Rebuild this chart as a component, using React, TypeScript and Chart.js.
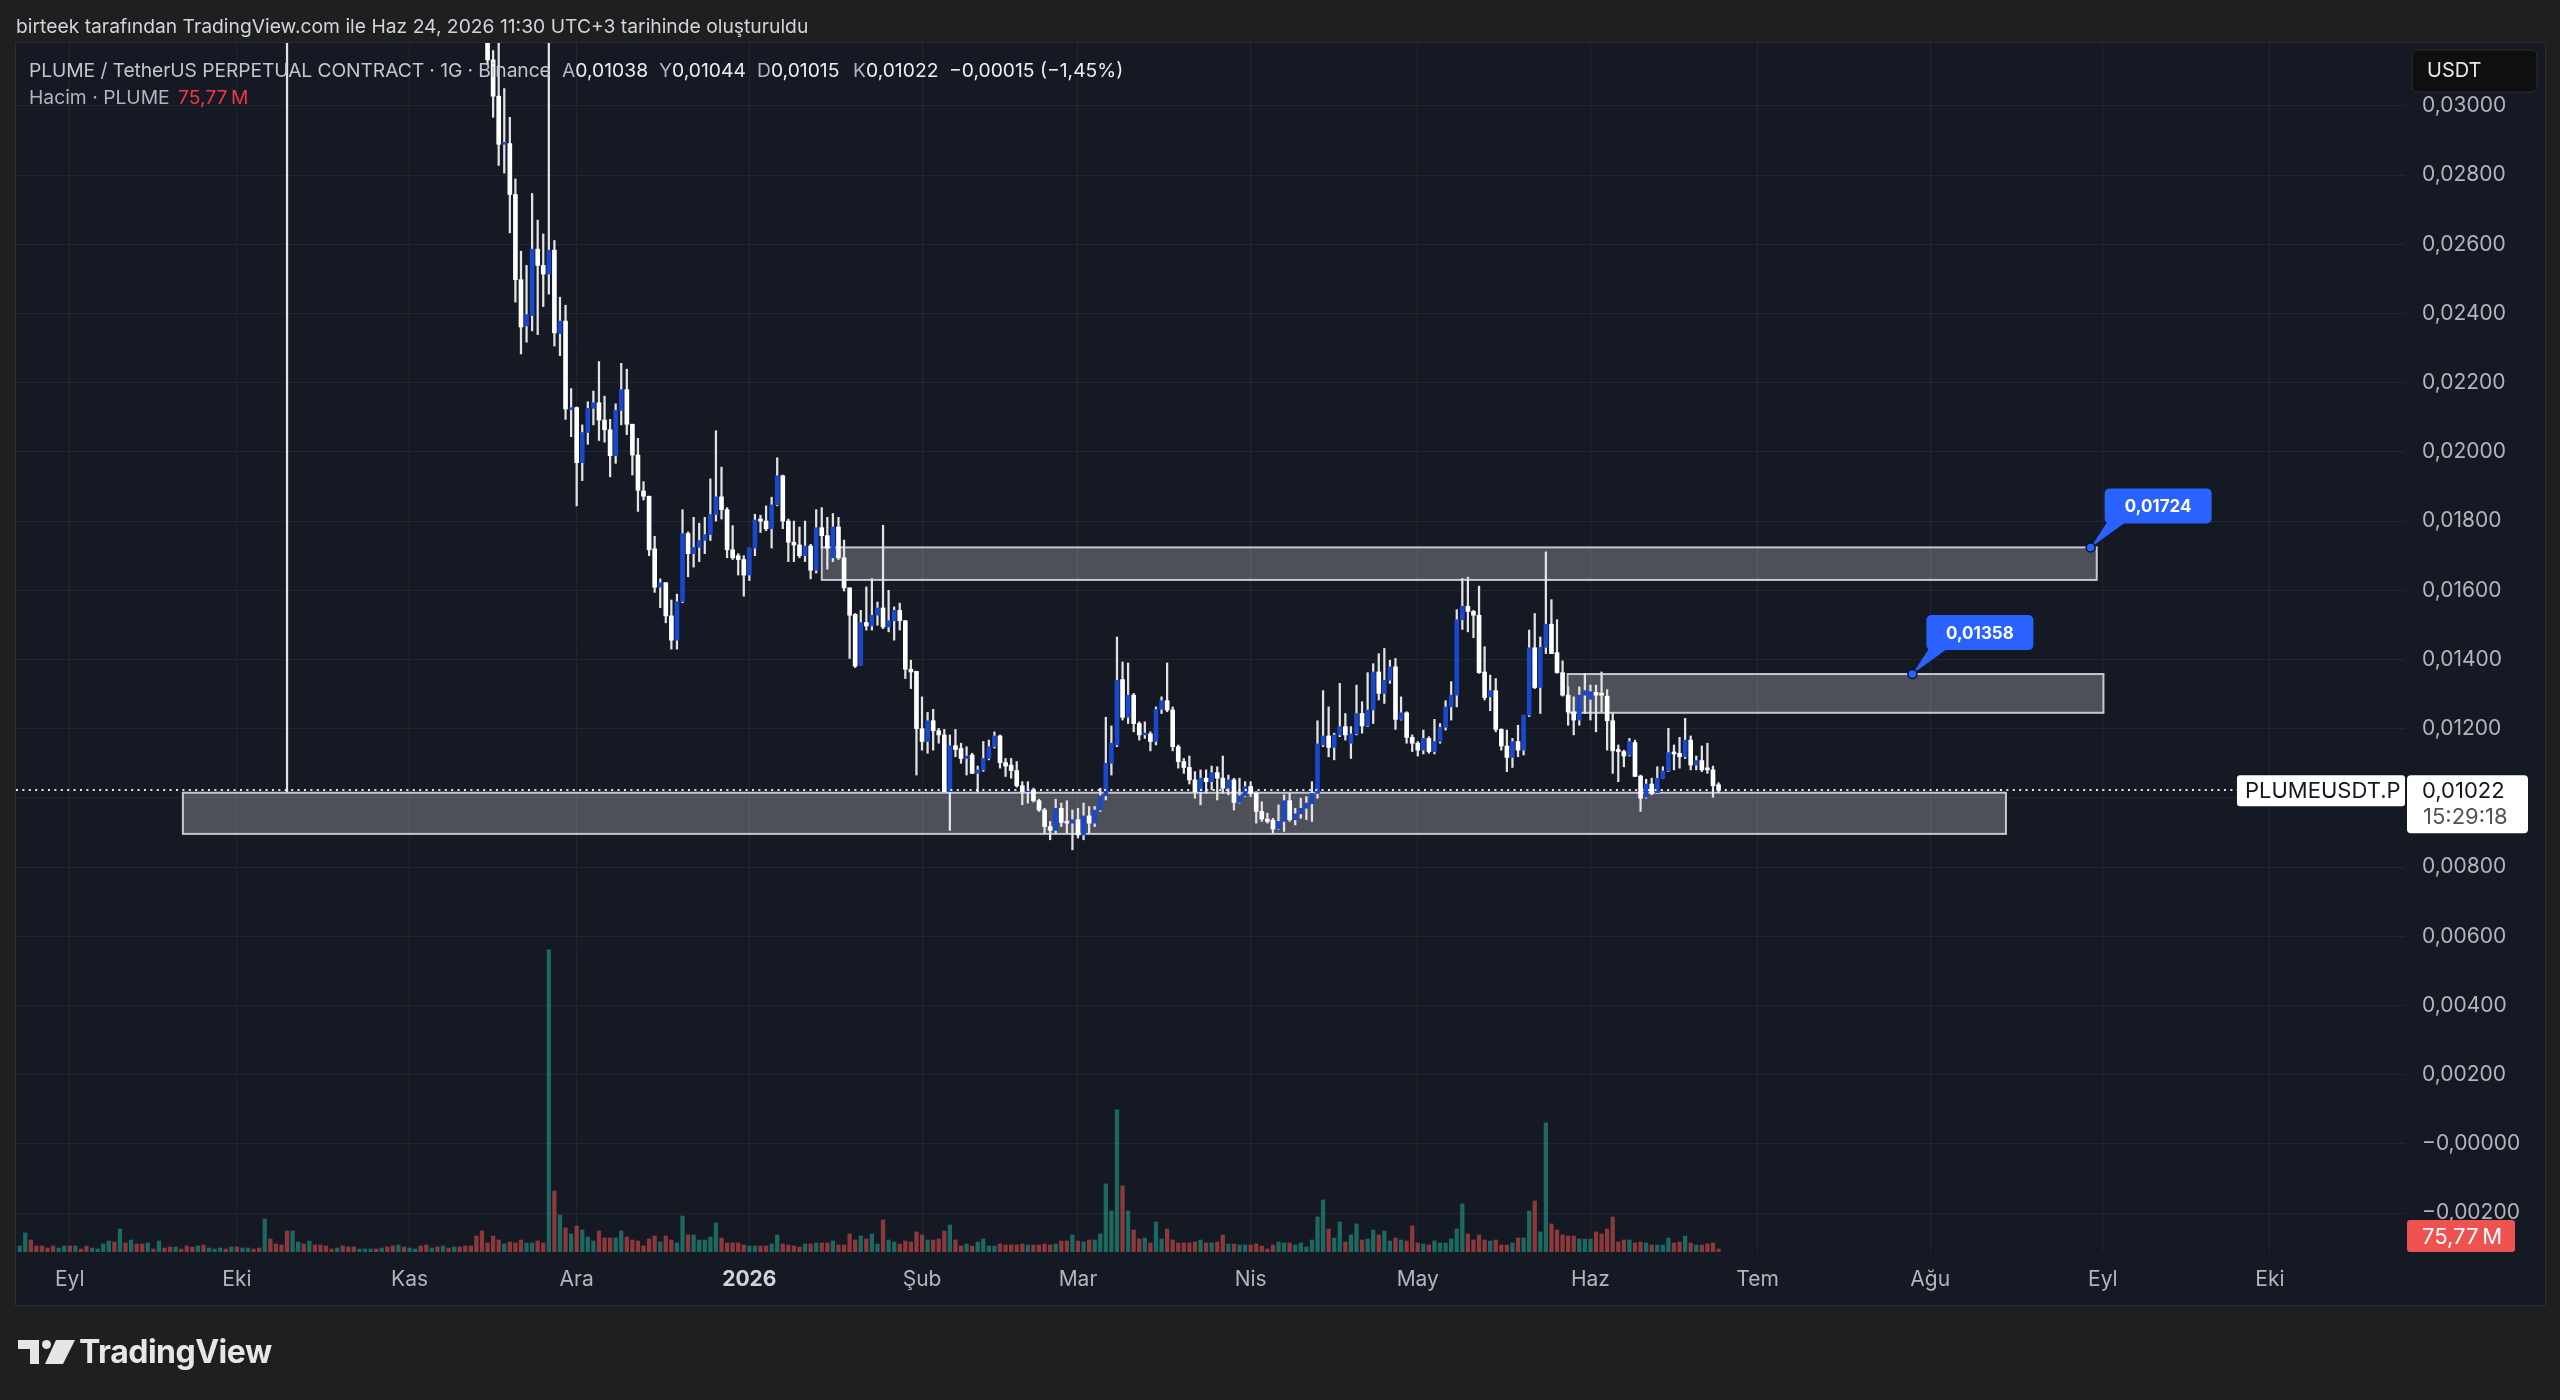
import React, { useEffect, useRef } from "react";
import { Chart, registerables } from "chart.js";

Chart.register(...registerables);

const FONT = 'Inter, "Noto Sans", "DejaVu Sans", sans-serif';

// ---- DATA -------------------------------------------------------------
// Day index 0 = 23 Aug 2025 (daily bars). Prices are in 0.001 USDT.
const FIRST_CANDLE_DAY = 84; // 15 Nov 2025 (earlier candles sit above the visible range)

const opens = [
  33.0, 31.33, 30.28, 28.89, 28.91, 27.44, 24.98, 23.64, 23.94, 25.86,
  25.39, 25.14, 25.83, 23.42, 23.78, 21.22, 21.28, 19.69, 20.56, 21.26,
  21.42, 20.92, 20.64, 19.89, 21.2, 21.8, 20.8, 19.91, 18.87, 18.72,
  17.2, 16.09, 16.22, 15.26, 14.56, 15.67, 17.64, 17.06, 17.24, 17.44,
  17.61, 18.19, 18.7, 18.33, 17.17, 17.0, 16.89, 16.44, 17.22, 18.06,
  18.0, 17.78, 18.47, 19.31, 18.0, 17.39, 17.31, 17.0, 17.28, 16.58,
  17.81, 17.58, 16.94, 17.83, 16.94, 16.07, 15.3, 13.84, 15.07, 14.97,
  15.28, 15.49, 14.94, 15.12, 15.42, 15.12, 13.72, 13.66, 12.0, 11.63,
  12.23, 11.94, 11.82, 10.18, 11.51, 11.43, 11.14, 11.24, 10.71, 10.81,
  11.14, 11.48, 11.79, 11.02, 10.95, 10.79, 10.35, 10.18, 10.23, 9.92,
  9.65, 9.17, 9.06, 9.7, 9.32, 9.27, 9.37, 8.93, 9.48, 9.27,
  9.65, 10.06, 11.0, 11.53, 13.42, 12.33, 12.97, 12.15, 11.82, 11.85,
  11.63, 12.56, 12.81, 12.54, 11.48, 11.05, 10.88, 10.52, 10.18, 10.57,
  10.47, 10.73, 10.57, 10.28, 10.52, 9.87, 10.06, 10.33, 10.13, 9.61,
  9.39, 9.35, 9.1, 9.32, 9.92, 9.37, 9.54, 9.7, 9.83, 10.13,
  11.53, 11.79, 11.46, 11.82, 12.06, 11.58, 11.85, 12.44, 12.08, 12.54,
  13.64, 13.02, 13.4, 13.79, 12.27, 12.46, 11.75, 11.58, 11.38, 11.72,
  11.34, 11.63, 12.04, 12.63, 12.97, 15.15, 15.54, 15.39, 15.28, 13.64,
  12.92, 13.1, 11.98, 11.5, 11.17, 11.63, 11.38, 12.39, 14.34, 13.19,
  14.35, 15.02, 14.2, 13.62, 12.97, 12.49, 12.25, 12.97, 12.85, 13.05,
  13.0, 12.94, 12.23, 11.36, 11.34, 11.24, 11.6, 10.63, 10.02, 10.4,
  10.15, 10.57, 10.78, 11.31, 11.29, 11.19, 11.67, 10.95, 11.08, 10.86,
  10.81, 10.38,
];
const highs = [
  34.0, 31.6, 32.2, 30.5, 29.67, 27.89, 25.8, 25.39, 27.47, 26.7,
  26.3, 36.0, 26.11, 24.47, 24.24, 21.83, 21.3, 20.78, 21.45, 21.76,
  22.61, 21.61, 20.94, 21.39, 22.56, 22.39, 20.8, 20.39, 19.14, 18.72,
  17.56, 16.33, 16.22, 15.72, 15.89, 18.33, 17.69, 18.11, 17.94, 18.11,
  19.22, 20.61, 19.56, 18.39, 17.87, 17.06, 17.0, 17.22, 18.2, 18.17,
  18.44, 18.69, 19.83, 19.33, 18.06, 18.0, 17.83, 18.0, 17.33, 18.33,
  18.39, 18.11, 18.22, 18.11, 17.45, 16.07, 15.33, 15.42, 16.1, 16.34,
  15.66, 17.88, 16.0, 15.52, 15.63, 15.13, 13.98, 13.66, 12.92, 12.47,
  12.56, 12.01, 11.98, 11.82, 11.98, 11.58, 11.48, 11.29, 10.92, 11.63,
  11.67, 11.91, 11.82, 11.14, 11.14, 11.05, 10.47, 10.47, 10.28, 9.96,
  9.7, 9.32, 9.96, 9.85, 9.92, 9.65, 9.7, 9.85, 9.75, 9.75,
  10.28, 12.33, 12.08, 14.65, 13.93, 13.9, 13.02, 12.2, 12.2, 11.91,
  12.63, 12.92, 13.9, 12.63, 11.53, 11.14, 11.21, 10.76, 10.81, 10.81,
  10.92, 10.9, 11.21, 10.66, 10.57, 10.57, 10.47, 10.47, 10.18, 9.89,
  9.56, 9.41, 9.8, 10.09, 10.13, 9.7, 9.99, 10.04, 10.47, 12.23,
  13.1, 12.63, 11.87, 13.31, 12.44, 12.06, 13.26, 12.78, 13.62, 13.88,
  14.17, 14.32, 13.98, 14.03, 12.92, 12.49, 11.82, 11.63, 11.96, 11.77,
  12.27, 12.15, 12.81, 13.36, 15.44, 16.34, 16.38, 15.42, 16.12, 14.37,
  13.55, 13.45, 12.0, 11.96, 11.72, 12.1, 12.39, 14.85, 15.33, 14.65,
  17.11, 15.73, 15.15, 13.96, 13.21, 12.92, 13.21, 13.6, 13.26, 13.26,
  13.64, 13.13, 12.46, 11.53, 11.38, 11.72, 11.67, 10.66, 10.54, 10.57,
  10.9, 10.9, 12.01, 11.53, 11.75, 12.3, 11.79, 11.21, 11.5, 11.58,
  10.92, 10.44,
];
const lows = [
  31.2, 29.67, 28.28, 28.06, 26.33, 24.33, 22.83, 23.17, 23.5, 23.39,
  24.2, 24.56, 23.06, 22.78, 20.94, 20.44, 18.44, 19.17, 20.22, 20.78,
  20.33, 20.28, 19.28, 19.67, 20.78, 20.5, 19.33, 18.28, 18.61, 17.0,
  15.94, 15.5, 15.06, 14.3, 14.3, 15.64, 16.39, 16.67, 16.83, 17.06,
  17.44, 18.0, 18.06, 16.94, 16.89, 16.44, 15.83, 16.28, 17.0, 17.67,
  17.72, 17.22, 18.44, 17.78, 16.83, 16.83, 16.94, 16.83, 16.33, 16.5,
  17.22, 16.61, 16.83, 16.89, 15.98, 14.03, 13.77, 13.84, 14.85, 14.85,
  14.99, 14.89, 14.8, 14.56, 14.85, 13.45, 13.16, 10.66, 11.38, 11.29,
  11.38, 11.58, 10.18, 9.06, 11.19, 11.0, 10.66, 10.71, 10.18, 10.77,
  11.1, 11.44, 10.86, 10.62, 10.57, 10.31, 9.8, 9.85, 9.88, 9.61,
  8.98, 8.79, 8.98, 9.17, 8.98, 8.5, 8.84, 8.79, 8.98, 9.17,
  9.61, 9.94, 10.66, 11.48, 12.25, 12.15, 11.91, 11.67, 11.72, 11.36,
  11.53, 12.44, 12.49, 11.36, 10.86, 10.71, 10.4, 9.99, 9.8, 10.13,
  10.23, 9.94, 10.13, 10.09, 9.65, 9.85, 10.04, 10.04, 9.27, 9.32,
  9.27, 8.98, 9.08, 9.03, 9.32, 9.22, 9.41, 9.37, 9.32, 9.99,
  11.48, 11.19, 11.1, 11.77, 11.67, 11.14, 11.82, 11.87, 12.06, 12.15,
  12.83, 12.73, 13.31, 11.98, 12.25, 11.58, 11.34, 11.21, 11.27, 11.29,
  11.27, 11.58, 11.96, 12.25, 12.63, 14.87, 14.8, 14.63, 13.6, 12.83,
  12.52, 11.91, 11.38, 10.76, 10.88, 11.19, 11.24, 12.35, 13.16, 12.44,
  14.17, 14.17, 13.6, 12.94, 12.1, 11.82, 12.1, 12.44, 12.25, 11.91,
  12.49, 11.38, 10.71, 10.47, 10.9, 11.21, 10.62, 9.61, 9.99, 10.09,
  10.13, 10.57, 10.76, 10.81, 10.86, 11.14, 10.81, 10.81, 10.76, 10.71,
  10.02, 10.15,
];
const closes = [
  31.33, 30.28, 28.89, 28.94, 27.44, 24.98, 23.61, 23.97, 25.86, 25.39,
  25.14, 25.83, 23.44, 23.78, 21.24, 21.28, 19.69, 20.56, 21.26, 21.42,
  20.92, 20.64, 19.89, 21.2, 21.8, 20.8, 19.91, 18.89, 18.72, 17.17,
  16.09, 16.22, 15.26, 14.56, 15.67, 17.64, 17.06, 17.24, 17.44, 17.61,
  18.19, 18.7, 18.33, 17.17, 16.94, 16.89, 16.44, 17.22, 18.03, 18.0,
  17.78, 18.47, 19.31, 18.0, 17.39, 17.31, 17.0, 17.28, 16.58, 17.81,
  17.58, 17.22, 17.83, 16.94, 16.07, 15.28, 13.81, 15.07, 14.97, 15.28,
  15.49, 14.94, 15.12, 15.42, 15.12, 13.72, 13.64, 12.0, 11.63, 12.23,
  11.94, 11.82, 10.18, 11.51, 11.4, 11.14, 11.21, 10.71, 10.81, 11.14,
  11.48, 11.79, 11.02, 10.92, 10.79, 10.35, 10.18, 10.23, 9.92, 9.65,
  9.17, 9.06, 9.7, 9.29, 9.27, 9.37, 8.93, 9.48, 9.27, 9.65,
  10.06, 11.0, 11.58, 13.4, 12.33, 12.97, 12.15, 11.82, 11.87, 11.63,
  12.56, 12.81, 12.54, 11.48, 11.05, 10.88, 10.52, 10.18, 10.57, 10.47,
  10.73, 10.57, 10.28, 10.52, 9.87, 10.06, 10.33, 10.13, 9.61, 9.39,
  9.32, 9.1, 9.32, 9.92, 9.37, 9.54, 9.7, 9.85, 10.13, 11.56,
  11.79, 11.46, 11.82, 12.06, 11.82, 11.85, 12.44, 12.08, 12.54, 13.64,
  13.02, 13.4, 13.79, 12.27, 12.46, 11.75, 11.58, 11.38, 11.72, 11.34,
  11.63, 12.04, 12.63, 12.97, 15.15, 15.54, 15.39, 15.28, 13.62, 12.9,
  13.1, 11.98, 11.5, 11.17, 11.63, 11.38, 12.39, 14.34, 13.19, 14.35,
  15.02, 14.17, 13.62, 12.97, 12.49, 12.25, 12.97, 13.1, 13.07, 12.97,
  12.97, 12.23, 11.36, 11.34, 11.21, 11.63, 10.62, 9.99, 10.4, 10.13,
  10.57, 10.78, 11.31, 11.27, 11.19, 11.67, 10.95, 11.08, 10.81, 10.81,
  10.35, 10.22,
];

// 10 Oct 2025: the only earlier candle whose wick reaches the visible range
const crashWickDay = 48;
const crashWickLow = 10.17;
const crashWickHigh = 60;

// Daily volume, million PLUME, day 0..305
const volumes = [
  150, 475, 300, 150, 150, 100, 150, 100, 150, 150,
  150, 75, 150, 100, 75, 200, 275, 250, 575, 225,
  300, 200, 200, 225, 75, 275, 100, 125, 125, 75,
  150, 125, 150, 175, 100, 75, 100, 75, 125, 125,
  100, 100, 75, 100, 825, 325, 200, 175, 525, 525,
  250, 200, 275, 175, 175, 150, 75, 100, 150, 125,
  125, 75, 75, 75, 75, 100, 125, 150, 175, 125,
  100, 75, 150, 175, 100, 125, 150, 100, 125, 125,
  150, 150, 400, 525, 225, 400, 300, 200, 250, 225,
  300, 225, 225, 275, 225, 7550, 1525, 925, 600, 450,
  650, 550, 375, 275, 525, 350, 350, 350, 525, 375,
  300, 275, 150, 325, 400, 250, 400, 300, 225, 900,
  425, 425, 300, 300, 375, 725, 350, 225, 225, 225,
  175, 150, 150, 150, 150, 200, 425, 200, 175, 150,
  125, 200, 200, 225, 225, 225, 275, 175, 175, 450,
  300, 400, 325, 450, 200, 800, 300, 250, 200, 275,
  250, 500, 425, 300, 300, 325, 525, 675, 300, 150,
  200, 150, 250, 325, 150, 150, 200, 175, 175, 175,
  200, 175, 175, 175, 200, 175, 200, 275, 275, 425,
  275, 250, 300, 300, 450, 1700, 1025, 3550, 1650, 1025,
  550, 325, 350, 225, 750, 325, 575, 300, 225, 225,
  225, 250, 300, 225, 225, 250, 425, 200, 200, 175,
  175, 175, 200, 150, 75, 175, 250, 225, 225, 175,
  225, 125, 300, 875, 1300, 575, 350, 750, 250, 425,
  700, 300, 325, 550, 425, 525, 275, 350, 300, 275,
  650, 225, 200, 175, 275, 225, 225, 325, 575, 1200,
  450, 300, 425, 300, 275, 300, 175, 175, 225, 350,
  350, 1025, 1275, 500, 3225, 700, 550, 425, 400, 400,
  325, 325, 325, 500, 450, 575, 875, 250, 300, 300,
  225, 250, 225, 175, 175, 175, 350, 225, 250, 400,
  225, 175, 175, 200, 225, 75.77,
];
// direction of the volume bars before the first visible candle (1 = up)
const earlyVolumeUp = [
  1, 1, 0, 0, 0, 0, 0, 1, 1, 0,
  1, 0, 0, 1, 1, 1, 1, 0, 1, 0,
  1, 0, 0, 1, 0, 1, 0, 0, 1, 0,
  0, 0, 1, 0, 1, 1, 1, 0, 1, 0,
  1, 1, 0, 0, 1, 0, 0, 0, 0, 1,
  1, 0, 1, 0, 0, 0, 0, 1, 0, 0,
  0, 1, 1, 1, 0, 1, 0, 0, 1, 0,
  1, 1, 0, 0, 1, 0, 1, 0, 1, 0,
  0, 0, 0, 0,
];

const monthTickDays = [9, 39, 70, 100, 131, 162, 190, 221, 251, 282, 312, 343, 374, 404];
const monthTickLabels = ["Eyl", "Eki", "Kas", "Ara", "2026", "Şub", "Mar", "Nis", "May", "Haz", "Tem", "Ağu", "Eyl", "Eki"];
const YEAR_TICK_DAY = 131;
const priceTicks = [-2, 0, 2, 4, 6, 8, 10, 12, 14, 16, 18, 20, 22, 24, 26, 28, 30];

// rectangles drawn on the chart (day index / price in 0.001 USDT)
const zoneStart = [144.0, 277.9, 29.3];
const zoneEnd = [372.9, 374.1, 356.6];
const zoneTop = [17.24, 13.58, 10.15];
const zoneBottom = [16.3, 12.46, 8.96];

const calloutDay = [371.8, 339.8];
const calloutValue = [17.24, 13.58];
const calloutText = ["0,01724", "0,01358"];

const lastPrice = 10.22;
const lastPriceText = "0,01022";
const countdownText = "15:29:18";
const lastVolumeText = "75,77\u2009M";

const X_MIN = -0.66;
const X_MAX = 428.24;
const Y_MIN = -3.124;
const Y_MAX = 31.818;

// ---- STYLE ------------------------------------------------------------
const PAGE_BG = "#1f1f1f";
const PANEL_BG = "#151924";
const GRID = "#22262f";
const AXIS_TEXT = "#b2b5be";
const UP_BODY = "#1a48cd";
const DOWN_BODY = "#ffffff";
const WICK = "#e2e2e2";
const VOL_UP = "rgba(34,171,148,0.55)";
const VOL_DOWN = "rgba(239,83,80,0.55)";
const CALLOUT = "#2962ff";

function fmtPrice(v: number) {
  const s = (Math.abs(v) / 1000).toFixed(5).replace(".", ",");
  return v <= 0 ? "\u2212" + s : s;
}

function rr(ctx: CanvasRenderingContext2D, x: number, y: number, w: number, h: number, r: number) {
  ctx.beginPath();
  if ((ctx as any).roundRect) (ctx as any).roundRect(x, y, w, h, r);
  else ctx.rect(x, y, w, h);
}

const tvPlugin = {
  id: "tvDecor",
  beforeDraw(chart: any) {
    const { ctx, chartArea: ca } = chart;
    ctx.save();
    ctx.fillStyle = PAGE_BG;
    ctx.fillRect(0, 0, chart.width, chart.height);
    const right = ca.right + 140;
    const bottom = ca.bottom + 53;
    ctx.fillStyle = PANEL_BG;
    ctx.fillRect(ca.left, ca.top, right - ca.left, bottom - ca.top);
    ctx.strokeStyle = "#2a2e39";
    ctx.lineWidth = 1;
    ctx.strokeRect(ca.left - 0.5, ca.top - 0.5, right - ca.left + 1, bottom - ca.top + 1);
    ctx.restore();
  },
  beforeDatasetsDraw(chart: any) {
    const { ctx, chartArea: ca, scales } = chart;
    const xs = scales.x, ys = scales.y;
    ctx.save();
    ctx.beginPath();
    ctx.rect(ca.left, ca.top, ca.right - ca.left, ca.bottom - ca.top);
    ctx.clip();
    for (let i = 0; i < zoneStart.length; i++) {
      const x0 = xs.getPixelForValue(zoneStart[i]);
      const x1 = xs.getPixelForValue(zoneEnd[i]);
      const y0 = ys.getPixelForValue(zoneTop[i]);
      const y1 = ys.getPixelForValue(zoneBottom[i]);
      ctx.fillStyle = "rgba(255,255,255,0.245)";
      ctx.fillRect(x0, y0, x1 - x0, y1 - y0);
      ctx.strokeStyle = "rgba(205,207,214,0.95)";
      ctx.lineWidth = 2;
      ctx.strokeRect(x0, y0, x1 - x0, y1 - y0);
    }
    ctx.restore();
  },
  afterDatasetsDraw(chart: any) {
    const { ctx, chartArea: ca, scales } = chart;
    const xs = scales.x, ys = scales.y;
    ctx.save();
    // last price dotted line
    const py = Math.round(ys.getPixelForValue(lastPrice));
    ctx.strokeStyle = "rgba(255,255,255,0.9)";
    ctx.lineWidth = 2;
    ctx.setLineDash([2, 4.4]);
    ctx.beginPath();
    ctx.moveTo(ca.left, py);
    ctx.lineTo(ca.right, py);
    ctx.stroke();
    ctx.setLineDash([]);
    // callouts
    for (let i = 0; i < calloutDay.length; i++) {
      const dx = xs.getPixelForValue(calloutDay[i]);
      const dy = ys.getPixelForValue(calloutValue[i]);
      const bx = dx + 14;
      const bBottom = dy - 24;
      const bw = 107, bh = 35;
      ctx.fillStyle = CALLOUT;
      ctx.beginPath();
      ctx.moveTo(dx, dy);
      ctx.lineTo(bx + 3, bBottom - 2);
      ctx.lineTo(bx + 22, bBottom - 2);
      ctx.closePath();
      ctx.fill();
      rr(ctx, bx, bBottom - bh, bw, bh, 5);
      ctx.fill();
      ctx.fillStyle = "#ffffff";
      ctx.font = `bold 17px ${FONT}`;
      ctx.textAlign = "center";
      ctx.textBaseline = "middle";
      ctx.fillText(calloutText[i], bx + bw / 2, bBottom - bh / 2 + 1);
      ctx.beginPath();
      ctx.arc(dx, dy, 4.5, 0, Math.PI * 2);
      ctx.fillStyle = CALLOUT;
      ctx.fill();
      ctx.strokeStyle = "#10142a";
      ctx.lineWidth = 1.5;
      ctx.stroke();
    }
    ctx.restore();
  },
  afterDraw(chart: any) {
    const { ctx, chartArea: ca, scales } = chart;
    const ys = scales.y;
    const py = ys.getPixelForValue(lastPrice);
    ctx.save();
    ctx.textBaseline = "middle";
    ctx.textAlign = "left";
    // symbol tag
    ctx.fillStyle = "#ffffff";
    rr(ctx, ca.right - 168, py - 15, 168, 31, 3);
    ctx.fill();
    ctx.fillStyle = "#131722";
    ctx.font = `22px ${FONT}`;
    ctx.fillText("PLUMEUSDT.P", ca.right - 160, py + 1);
    // price + countdown tag
    ctx.fillStyle = "#ffffff";
    rr(ctx, ca.right + 2, py - 15, 121, 58, 4);
    ctx.fill();
    ctx.fillStyle = "#131722";
    ctx.font = `22px ${FONT}`;
    ctx.fillText(lastPriceText, ca.right + 17, py + 1);
    ctx.fillStyle = "#50535e";
    ctx.fillText(countdownText, ca.right + 18, py + 27);
    // volume tag
    ctx.fillStyle = "#ef5350";
    rr(ctx, ca.right + 2, ca.bottom - 32, 108, 32, 3);
    ctx.fill();
    ctx.fillStyle = "#ffffff";
    ctx.font = `22px ${FONT}`;
    ctx.fillText(lastVolumeText, ca.right + 17, ca.bottom - 15);
    // currency button
    ctx.fillStyle = "#0f0f0f";
    rr(ctx, ca.right + 7, 50, 125, 42, 6);
    ctx.fill();
    ctx.strokeStyle = "#2e2e2e";
    ctx.lineWidth = 1;
    ctx.stroke();
    ctx.fillStyle = "#e8e8e8";
    ctx.font = `20px ${FONT}`;
    ctx.fillText("USDT", ca.right + 22, 71);
    ctx.restore();
  },
};

export default function App() {
  const canvasRef = useRef<HTMLCanvasElement | null>(null);

  useEffect(() => {
    const canvas = canvasRef.current;
    if (!canvas) return;

    const wickData: any[] = [{ x: crashWickDay, y: [crashWickLow, crashWickHigh] }];
    const bodyData: any[] = [];
    const bodyColors: string[] = [];
    for (let i = 0; i < opens.length; i++) {
      const d = FIRST_CANDLE_DAY + i;
      wickData.push({ x: d, y: [lows[i], highs[i]] });
      bodyData.push({ x: d, y: [opens[i], closes[i]] });
      bodyColors.push(closes[i] >= opens[i] ? UP_BODY : DOWN_BODY);
    }
    const volData = volumes.map((v, d) => ({ x: d, y: v }));
    const volColors = volumes.map((_, d) => {
      const up =
        d < FIRST_CANDLE_DAY
          ? earlyVolumeUp[d] === 1
          : closes[d - FIRST_CANDLE_DAY] >= opens[d - FIRST_CANDLE_DAY];
      return up ? VOL_UP : VOL_DOWN;
    });
    const volMax = Math.max(...volumes) * 4.0;

    const chart = new Chart(canvas, {
      type: "bar",
      data: {
        datasets: [
          {
            label: "Hacim",
            data: volData,
            yAxisID: "yv",
            backgroundColor: volColors,
            barThickness: 3.6,
            grouped: false,
            order: 3,
            borderWidth: 0,
          } as any,
          {
            label: "wick",
            data: wickData,
            yAxisID: "y",
            backgroundColor: WICK,
            barThickness: 1.6,
            grouped: false,
            order: 2,
            borderWidth: 0,
          } as any,
          {
            label: "body",
            data: bodyData,
            yAxisID: "y",
            backgroundColor: bodyColors,
            barThickness: 4,
            minBarLength: 2,
            grouped: false,
            order: 1,
            borderWidth: 0,
          } as any,
        ],
      },
      options: {
        animation: false,
        responsive: false,
        maintainAspectRatio: false,
        devicePixelRatio: 1,
        layout: { padding: { left: 16, top: 43, right: 15, bottom: 95 } },
        plugins: { legend: { display: false }, tooltip: { enabled: false } },
        scales: {
          x: {
            type: "linear",
            min: X_MIN,
            max: X_MAX,
            offset: false,
            grid: { color: GRID, drawTicks: false, offset: false, lineWidth: 1 },
            border: { display: false },
            afterBuildTicks: (s: any) => {
              s.ticks = monthTickDays.map((v) => ({ value: v }));
            },
            afterFit: (s: any) => {
              s.height = 53;
            },
            ticks: {
              autoSkip: false,
              maxRotation: 0,
              minRotation: 0,
              padding: 15,
              color: (c: any) => (c.tick && c.tick.value === YEAR_TICK_DAY ? "#d1d4dc" : AXIS_TEXT),
              font: (c: any) => ({
                family: FONT,
                size: 21,
                weight: c.tick && c.tick.value === YEAR_TICK_DAY ? "bold" : "normal",
              }),
              callback: (v: any) => monthTickLabels[monthTickDays.indexOf(Number(v))] ?? "",
            },
          },
          y: {
            type: "linear",
            position: "right",
            min: Y_MIN,
            max: Y_MAX,
            grid: { color: GRID, drawTicks: false, lineWidth: 1 },
            border: { display: false },
            afterBuildTicks: (s: any) => {
              s.ticks = priceTicks.map((v) => ({ value: v }));
            },
            afterFit: (s: any) => {
              s.width = 140;
            },
            ticks: {
              padding: 17,
              color: AXIS_TEXT,
              font: { family: FONT, size: 21 },
              callback: (v: any) => fmtPrice(Number(v)),
            },
          },
          yv: {
            type: "linear",
            display: false,
            min: 0,
            max: volMax,
          },
        },
      } as any,
      plugins: [tvPlugin as any],
    });
    return () => chart.destroy();
  }, []);

  const legendBase: React.CSSProperties = {
    position: "absolute",
    fontFamily: FONT,
    fontSize: 19.3,
    lineHeight: "24px",
    whiteSpace: "nowrap",
  };
  const grey = "#b2b5be";
  const white = "#eceef2";
  const ohlc: [number, string, string][] = [
    [562, "A", "0,01038"],
    [659, "Y", "0,01044"],
    [757, "D", "0,01015"],
    [853, "K", "0,01022"],
  ];

  return (
    <div
      style={{
        position: "absolute",
        left: 0,
        top: 0,
        width: 2560,
        height: 1400,
        background: PAGE_BG,
        overflow: "hidden",
      }}
    >
      <canvas
        ref={canvasRef}
        width={2560}
        height={1400}
        style={{ position: "absolute", left: 0, top: 0, width: 2560, height: 1400 }}
      />
      <div style={{ ...legendBase, left: 16, top: 14, color: "#d1d4dc" }}>
        birteek tarafından TradingView.com ile Haz 24, 2026 11:30 UTC+3 tarihinde oluşturuldu
      </div>
      <div style={{ ...legendBase, left: 29, top: 58, color: "#c3c6ce", letterSpacing: "-0.1px" }}>
        PLUME / TetherUS PERPETUAL CONTRACT · 1G · Binance
      </div>
      {ohlc.map(([x, k, v]) => (
        <div key={k} style={{ ...legendBase, left: x, top: 58 }}>
          <span style={{ color: grey }}>{k}</span>
          <span style={{ color: white }}>{v}</span>
        </div>
      ))}
      <div style={{ ...legendBase, left: 949, top: 58, color: white }}>−0,00015 (−1,45%)</div>
      <div style={{ ...legendBase, left: 29, top: 85, color: grey }}>Hacim · PLUME</div>
      <div style={{ ...legendBase, left: 178, top: 85, color: "#f23645" }}>75,77{"\u2009"}M</div>

      <svg
        width={57}
        height={24}
        viewBox="0 0 57 24"
        style={{ position: "absolute", left: 18, top: 1340 }}
      >
        <path d="M0 0 H21 V24 H12 V9 H0 Z" fill="#e6e6e6" />
        <circle cx={28.5} cy={4.5} r={4.5} fill="#e6e6e6" />
        <path d="M38 0 H57 L45 24 H27 Z" fill="#e6e6e6" />
      </svg>
      <div
        style={{
          position: "absolute",
          left: 79,
          top: 1332,
          fontFamily: FONT,
          fontSize: 32,
          fontWeight: 700,
          lineHeight: "40px",
          letterSpacing: "-0.5px",
          color: "#e6e6e6",
          whiteSpace: "nowrap",
        }}
      >
        TradingView
      </div>
    </div>
  );
}
